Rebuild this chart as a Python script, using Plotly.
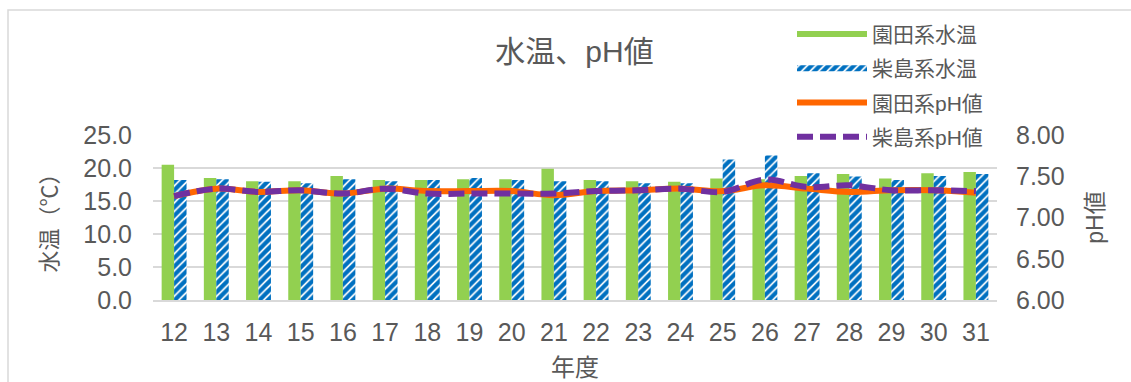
import plotly.graph_objects as go

years = ["12", "13", "14", "15", "16", "17", "18", "19", "20", "21",
         "22", "23", "24", "25", "26", "27", "28", "29", "30", "31"]
sonoda_temp = [20.5, 18.5, 18.0, 18.0, 18.8, 18.2, 18.2, 18.3, 18.3, 19.9,
               18.2, 18.0, 17.9, 18.4, 18.3, 18.8, 19.1, 18.4, 19.2, 19.4]
shibajima_temp = [18.2, 18.3, 17.9, 17.7, 18.3, 18.0, 18.2, 18.5, 18.2, 18.0,
                  18.0, 17.7, 17.7, 21.3, 21.9, 19.2, 18.7, 18.2, 18.8, 19.1]
sonoda_ph = [7.26, 7.35, 7.31, 7.33, 7.29, 7.35, 7.32, 7.32, 7.32, 7.27,
             7.32, 7.33, 7.35, 7.32, 7.39, 7.35, 7.31, 7.33, 7.33, 7.30]
shibajima_ph = [7.26, 7.35, 7.31, 7.33, 7.29, 7.35, 7.29, 7.29, 7.29, 7.29,
                7.32, 7.33, 7.35, 7.31, 7.46, 7.37, 7.39, 7.33, 7.33, 7.32]

FONT = "Arial, Liberation Sans, Noto Sans CJK JP"
TXT = "#595959"
GRID = "#d9d9d9"
GREEN = "#92d050"
BLUE = "#0070c0"
ORANGE = "#ff6600"
PURPLE = "#7030a0"
stripe = dict(shape="/", fgcolor=BLUE, bgcolor="white", size=6, solidity=0.7, fgopacity=1)

fig = go.Figure()
fig.add_trace(go.Bar(x=years, y=sonoda_temp, name="園田系水温", showlegend=False,
                     marker=dict(color=GREEN, line=dict(width=0))))
fig.add_trace(go.Bar(x=years, y=shibajima_temp, name="柴島系水温", showlegend=False,
                     marker=dict(color="white", line=dict(width=0), pattern=stripe)))
# legend entries for the bars (wide symbols like the original)
fig.add_trace(go.Scatter(x=[None], y=[None], name="園田系水温", mode="none",
                         fill="toself", fillcolor=GREEN, legendgroup="a"))
fig.add_trace(go.Scatter(x=[None], y=[None], name="柴島系水温", mode="none",
                         fill="toself", fillcolor="white", fillpattern=stripe, legendgroup="b"))
fig.add_trace(go.Scatter(x=years, y=sonoda_ph, name="園田系pH値", yaxis="y2",
                         mode="lines", line=dict(color=ORANGE, width=6, shape="spline"),
                         legendgroup="c"))
fig.add_trace(go.Scatter(x=years, y=shibajima_ph, name="柴島系pH値", yaxis="y2",
                         mode="lines", line=dict(color=PURPLE, width=6, shape="spline", dash="16px,7px"),
                         legendgroup="d"))

fig.update_layout(
    width=1131, height=382,
    margin=dict(l=153, r=134, t=135, b=82, autoexpand=False),
    paper_bgcolor="white", plot_bgcolor="white",
    font=dict(family=FONT, color=TXT, size=25),
    barmode="group", bargap=0.41, bargroupgap=0.0,
    title=dict(text="水温、pH値", x=0.508, xanchor="center", y=0.865, yanchor="middle",
               font=dict(size=30, color=TXT)),
    showlegend=True,
    legend=dict(x=(792 - 153) / 844, y=1.735, xanchor="left", yanchor="top",
                font=dict(size=21, color=TXT), bgcolor="rgba(0,0,0,0)",
                traceorder="grouped", tracegroupgap=4, itemwidth=70),
    xaxis=dict(type="category", categoryorder="array", categoryarray=years, automargin=False,
               showgrid=False, showline=True, linecolor=GRID, linewidth=1.5,
               ticks="", tickfont=dict(size=25, color=TXT), ticklabelstandoff=9,
               title=dict(text="年度", font=dict(size=24, color=TXT), standoff=14)),
    yaxis=dict(range=[0, 25], dtick=5, tickformat=".1f", showgrid=True, gridcolor=GRID,
               gridwidth=1.5, zeroline=False, ticks="", tickfont=dict(size=25, color=TXT),
               ticklabelstandoff=20, automargin=False,
               title=dict(text="水温（℃）", font=dict(size=22, color=TXT), standoff=19)),
    yaxis2=dict(range=[6, 8], dtick=0.5, tickformat=".2f", overlaying="y", side="right",
                showgrid=False, zeroline=False, ticks="", tickfont=dict(size=25, color=TXT),
                ticklabelstandoff=18, automargin=False,
                title=dict(text="pH値", font=dict(size=23, color=TXT), standoff=23)),
)

fig.add_shape(type="rect", xref="paper", yref="paper",
              x0=(8 - 153) / 844, x1=1.5, y0=-1.5, y1=(300 - 10) / 165,
              line=dict(color=GRID, width=1.5), fillcolor="rgba(0,0,0,0)", layer="below")

fig.write_html("out.html")
